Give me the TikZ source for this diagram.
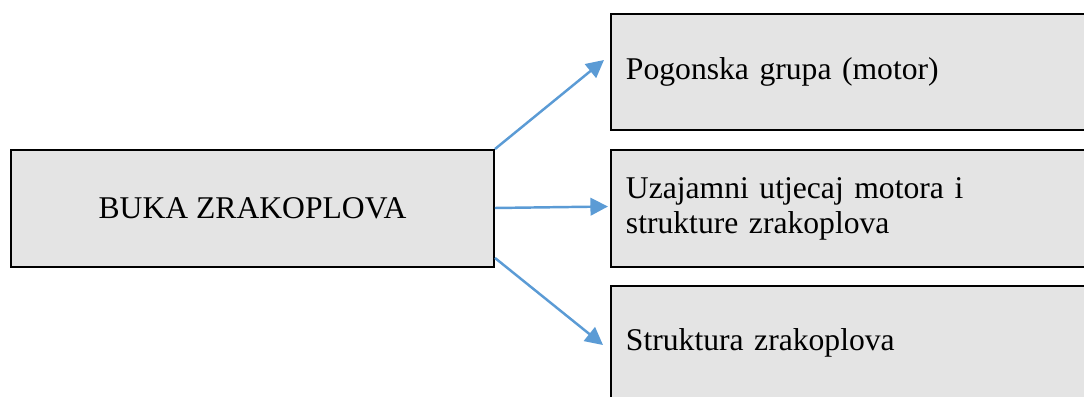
\documentclass[tikz,border=0pt]{standalone}
\usepackage{fontspec}
\setmainfont{Liberation Serif}
\usepackage{tikz}
\usetikzlibrary{arrows.meta}
\definecolor{boxgray}{HTML}{E4E4E4}
\definecolor{arrowblue}{HTML}{5B9BD5}

\begin{document}
\begin{tikzpicture}[
        font=\fontsize{18}{20}\selectfont,
        box/.style={draw, line width=1.1pt, fill=boxgray, rectangle,
            inner sep=0pt},
        leaf/.style={box, anchor=west, minimum width=9.8cm, text width=9.2cm,
            inner xsep=0.3cm, align=left},
        link/.style={draw=arrowblue, line width=1.4pt,
            -{Triangle[length=10pt, width=10pt]}}]

        \useasboundingbox (0,0) rectangle (21.68,7.94);
        \clip (0,0) rectangle (21.68,7.94);

        \node[box, minimum width=9.66cm, minimum height=2.34cm] (buka) at
        (5.05, 3.77) {BUKA ZRAKOPLOVA};

        \node[leaf, minimum height=2.32cm] (motor) at (12.2, 6.5) {Pogonska
        grupa (motor)};

        \node[leaf, minimum height=2.34cm] (spoj) at (12.2, 3.77) {Uzajamni
        utjecaj motora i\\strukture zrakoplova};

        \node[leaf, minimum height=2.28cm] (struktura) at (12.2, 1.08)
        {Struktura zrakoplova};

        \draw[link] (buka.north east) -- ([shift={(-0.12,0.24)}]motor.west);
        \draw[link] ([yshift=0.01cm]buka.east) --
        ([shift={(-0.04,0.04)}]spoj.west);
        \draw[link] ([yshift=0.2cm]buka.south east) --
        ([shift={(-0.14,-0.04)}]struktura.west);
    \end{tikzpicture}
\end{document}
